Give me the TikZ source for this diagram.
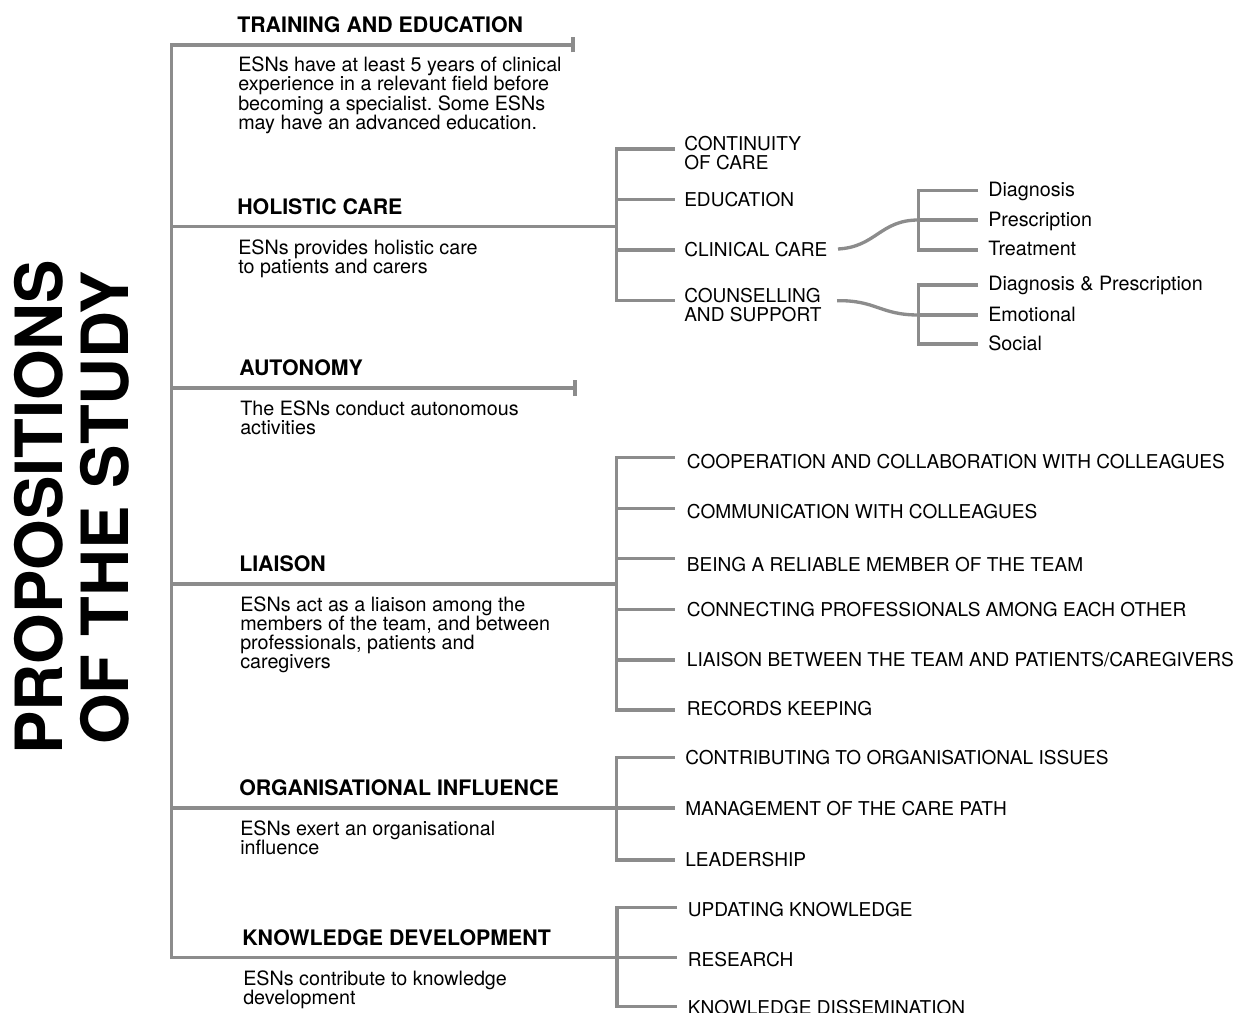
\documentclass[tikz,border=0pt]{standalone}
\usepackage{fontspec}
\setmainfont{TeX Gyre Heros}
\definecolor{lg}{RGB}{140,140,140}
\frenchspacing
\begin{document}
\begin{tikzpicture}[x=0.75pt,y=-0.75pt,
  conn/.style={draw=lg,line width=2.5pt},
  titletext/.style={anchor=base west,inner sep=0pt,rotate=90,font=\fontsize{48.8}{48.8}\selectfont\bfseries},
  head/.style={anchor=base west,inner sep=0pt,font=\fontsize{16}{16}\selectfont\bfseries},
  body/.style={anchor=base west,inner sep=0pt,align=left,font=\fontsize{14.8}{14.2}\selectfont},
  lab/.style={anchor=base west,inner sep=0pt,align=left,font=\fontsize{14.3}{14.4}\selectfont},
  sublab/.style={anchor=base west,inner sep=0pt,font=\fontsize{14.8}{14.8}\selectfont},
]
\useasboundingbox (0,0) rectangle (1239,1013);

% ---------- title ----------
\node[titletext] (title1) at (62,755) {PROPOSITIONS};
\node[titletext] (title2) at (128,745) {OF THE STUDY};

% ---------- main headings and descriptions (base = last line) ----------
\node[head] (h1) at (237,32.5) {TRAINING AND EDUCATION};
\node[body] (b1) at (238,129.5) {ESNs have at least 5 years of clinical\\experience in a relevant field before\\becoming a specialist. Some ESNs\\may have an advanced education.};
\node[head] (h2) at (237,214.2) {HOLISTIC CARE};
\node[body] (b2) at (238,273.3) {ESNs provides holistic care\\to patients and carers};
\node[head] (h3) at (239,375.5) {AUTONOMY};
\node[body] (b3) at (240,434.6) {The ESNs conduct autonomous\\activities};
\node[head] (h4) at (239,571.5) {LIAISON};
\node[body] (b4) at (240,668.5) {ESNs act as a liaison among the\\members of the team, and between\\professionals, patients and\\caregivers};
\node[head] (h5) at (239,795.5) {ORGANISATIONAL INFLUENCE};
\node[body] (b5) at (240,854.6) {ESNs exert an organisational\\influence};
\node[head] (h6) at (242,945.2) {KNOWLEDGE DEVELOPMENT};
\node[body] (b6) at (243,1004.3) {ESNs contribute to knowledge\\development};

% ---------- trunk coordinates ----------
\coordinate (j1) at (171.5,45);
\coordinate (j2) at (171.5,226.7);
\coordinate (j3) at (171.5,388);
\coordinate (j4) at (171.5,584);
\coordinate (j5) at (171.5,808);
\coordinate (j6) at (171.5,957.7);
\coordinate (e1) at (573,45);
\coordinate (e3) at (575,388);
\coordinate (s2) at (616.7,226.7);
\coordinate (s4) at (616.7,584);
\coordinate (s5) at (616.5,808);
\coordinate (s6) at (617,957.7);

\draw[conn] (e1) -- (j1) -- (j6) -- (s6);
\draw[conn] (j2) -- (s2);
\draw[conn] (j3) -- (e3);
\draw[conn] (j4) -- (s4);
\draw[conn] (j5) -- (s5);
\draw[conn] ([yshift=-5.5]e1) -- ([yshift=6]e1);
\draw[conn] ([yshift=-6]e3) -- ([yshift=6]e3);

% ---------- holistic care sub-branches ----------
\node[lab] (hc1) at (684,169.6) {CONTINUITY\\OF CARE};
\node[lab] (hc2) at (684,206.2) {EDUCATION};
\node[lab] (hc3) at (684,256.9) {CLINICAL CARE};
\node[lab] (hc4) at (684,321.3) {COUNSELLING\\AND SUPPORT};
\coordinate (hv1) at (616.7,149);
\coordinate (hv2) at (616.7,199.3);
\coordinate (hv3) at (616.7,250);
\coordinate (hv4) at (616.7,300.7);
\coordinate (he1) at (675,149);
\coordinate (he2) at (675,199.3);
\coordinate (he3) at (675,250);
\coordinate (he4) at (675,300.7);
\draw[conn] (he1) -- (hv1) -- (hv4) -- (he4);
\draw[conn] (hv2) -- (he2);
\draw[conn] (hv3) -- (he3);

% clinical care
\coordinate (cs) at (838,249);
\coordinate (cj) at (918.5,220);
\coordinate (cv1) at (918.5,190.7);
\coordinate (cv3) at (918.5,250);
\coordinate (ce1) at (978,190.7);
\coordinate (ce2) at (978,220);
\coordinate (ce3) at (978,250);
\draw[conn] (cs) .. controls (876,247) and (880,220) .. (cj);
\draw[conn] (ce1) -- (cv1) -- (cv3) -- (ce3);
\draw[conn] (cj) -- (ce2);
\node[sublab] (cc1) at (988,197) {Diagnosis};
\node[sublab] (cc2) at (988,226.5) {Prescription};
\node[sublab] (cc3) at (988,256) {Treatment};

% counselling and support
\coordinate (ks) at (837,300.7);
\coordinate (kj) at (918.5,315);
\coordinate (kv1) at (918.5,285);
\coordinate (kv3) at (918.5,344);
\coordinate (ke1) at (978,285);
\coordinate (ke2) at (978,315);
\coordinate (ke3) at (978,344);
\draw[conn] (ks) .. controls (876,300) and (880,315) .. (kj);
\draw[conn] (ke1) -- (kv1) -- (kv3) -- (ke3);
\draw[conn] (kj) -- (ke2);
\node[sublab] (cs1) at (988,291) {Diagnosis \& Prescription};
\node[sublab] (cs2) at (988,321) {Emotional};
\node[sublab] (cs3) at (988,350.5) {Social};

% ---------- liaison sub-branches ----------
\coordinate (lv1) at (616.7,457.3);
\coordinate (lv2) at (616.7,508.3);
\coordinate (lv3) at (616.7,558.3);
\coordinate (lv4) at (616.7,609.3);
\coordinate (lv5) at (616.7,660);
\coordinate (lv6) at (616.7,710);
\coordinate (le1) at (675,457.3);
\coordinate (le2) at (675,508.3);
\coordinate (le3) at (675,558.3);
\coordinate (le4) at (675,609.3);
\coordinate (le5) at (675,660);
\coordinate (le6) at (675,710);
\draw[conn] (le1) -- (lv1) -- (lv6) -- (le6);
\draw[conn] (lv2) -- (le2);
\draw[conn] (lv3) -- (le3);
\draw[conn] (lv4) -- (le4);
\draw[conn] (lv5) -- (le5);
\node[lab] (l1) at (686.7,468.5) {COOPERATION AND COLLABORATION WITH COLLEAGUES};
\node[lab] (l2) at (686.7,518.5) {COMMUNICATION WITH COLLEAGUES};
\node[lab] (l3) at (686.7,571.5) {BEING A RELIABLE MEMBER OF THE TEAM};
\node[lab] (l4) at (686.7,616.5) {CONNECTING PROFESSIONALS AMONG EACH OTHER};
\node[lab] (l5) at (686.7,666.5) {LIAISON BETWEEN THE TEAM AND PATIENTS/CAREGIVERS};
\node[lab] (l6) at (686.7,715) {RECORDS KEEPING};

% ---------- organisational influence sub-branches ----------
\coordinate (ov1) at (616.5,757.7);
\coordinate (ov3) at (616.5,860);
\coordinate (oe1) at (675,757.7);
\coordinate (oe2) at (675,808);
\coordinate (oe3) at (675,860);
\draw[conn] (oe1) -- (ov1) -- (ov3) -- (oe3);
\draw[conn] (s5) -- (oe2);
\node[lab] (o1) at (685,764.6) {CONTRIBUTING TO ORGANISATIONAL ISSUES};
\node[lab] (o2) at (685,815) {MANAGEMENT OF THE CARE PATH};
\node[lab] (o3) at (685,866.8) {LEADERSHIP};

% ---------- knowledge development sub-branches ----------
\coordinate (dv1) at (617,907.7);
\coordinate (dv3) at (617,1006.7);
\coordinate (de1) at (677,907.7);
\coordinate (de2) at (677,957.7);
\coordinate (de3) at (677,1006.7);
\draw[conn] (de1) -- (dv1) -- (dv3) -- (de3);
\draw[conn] (s6) -- (de2);
\node[lab] (d1) at (687.7,916.8) {UPDATING KNOWLEDGE};
\node[lab] (d2) at (687.7,966.8) {RESEARCH};
\node[lab] (d3) at (687.7,1014.8) {KNOWLEDGE DISSEMINATION};
\end{tikzpicture}
\end{document}
